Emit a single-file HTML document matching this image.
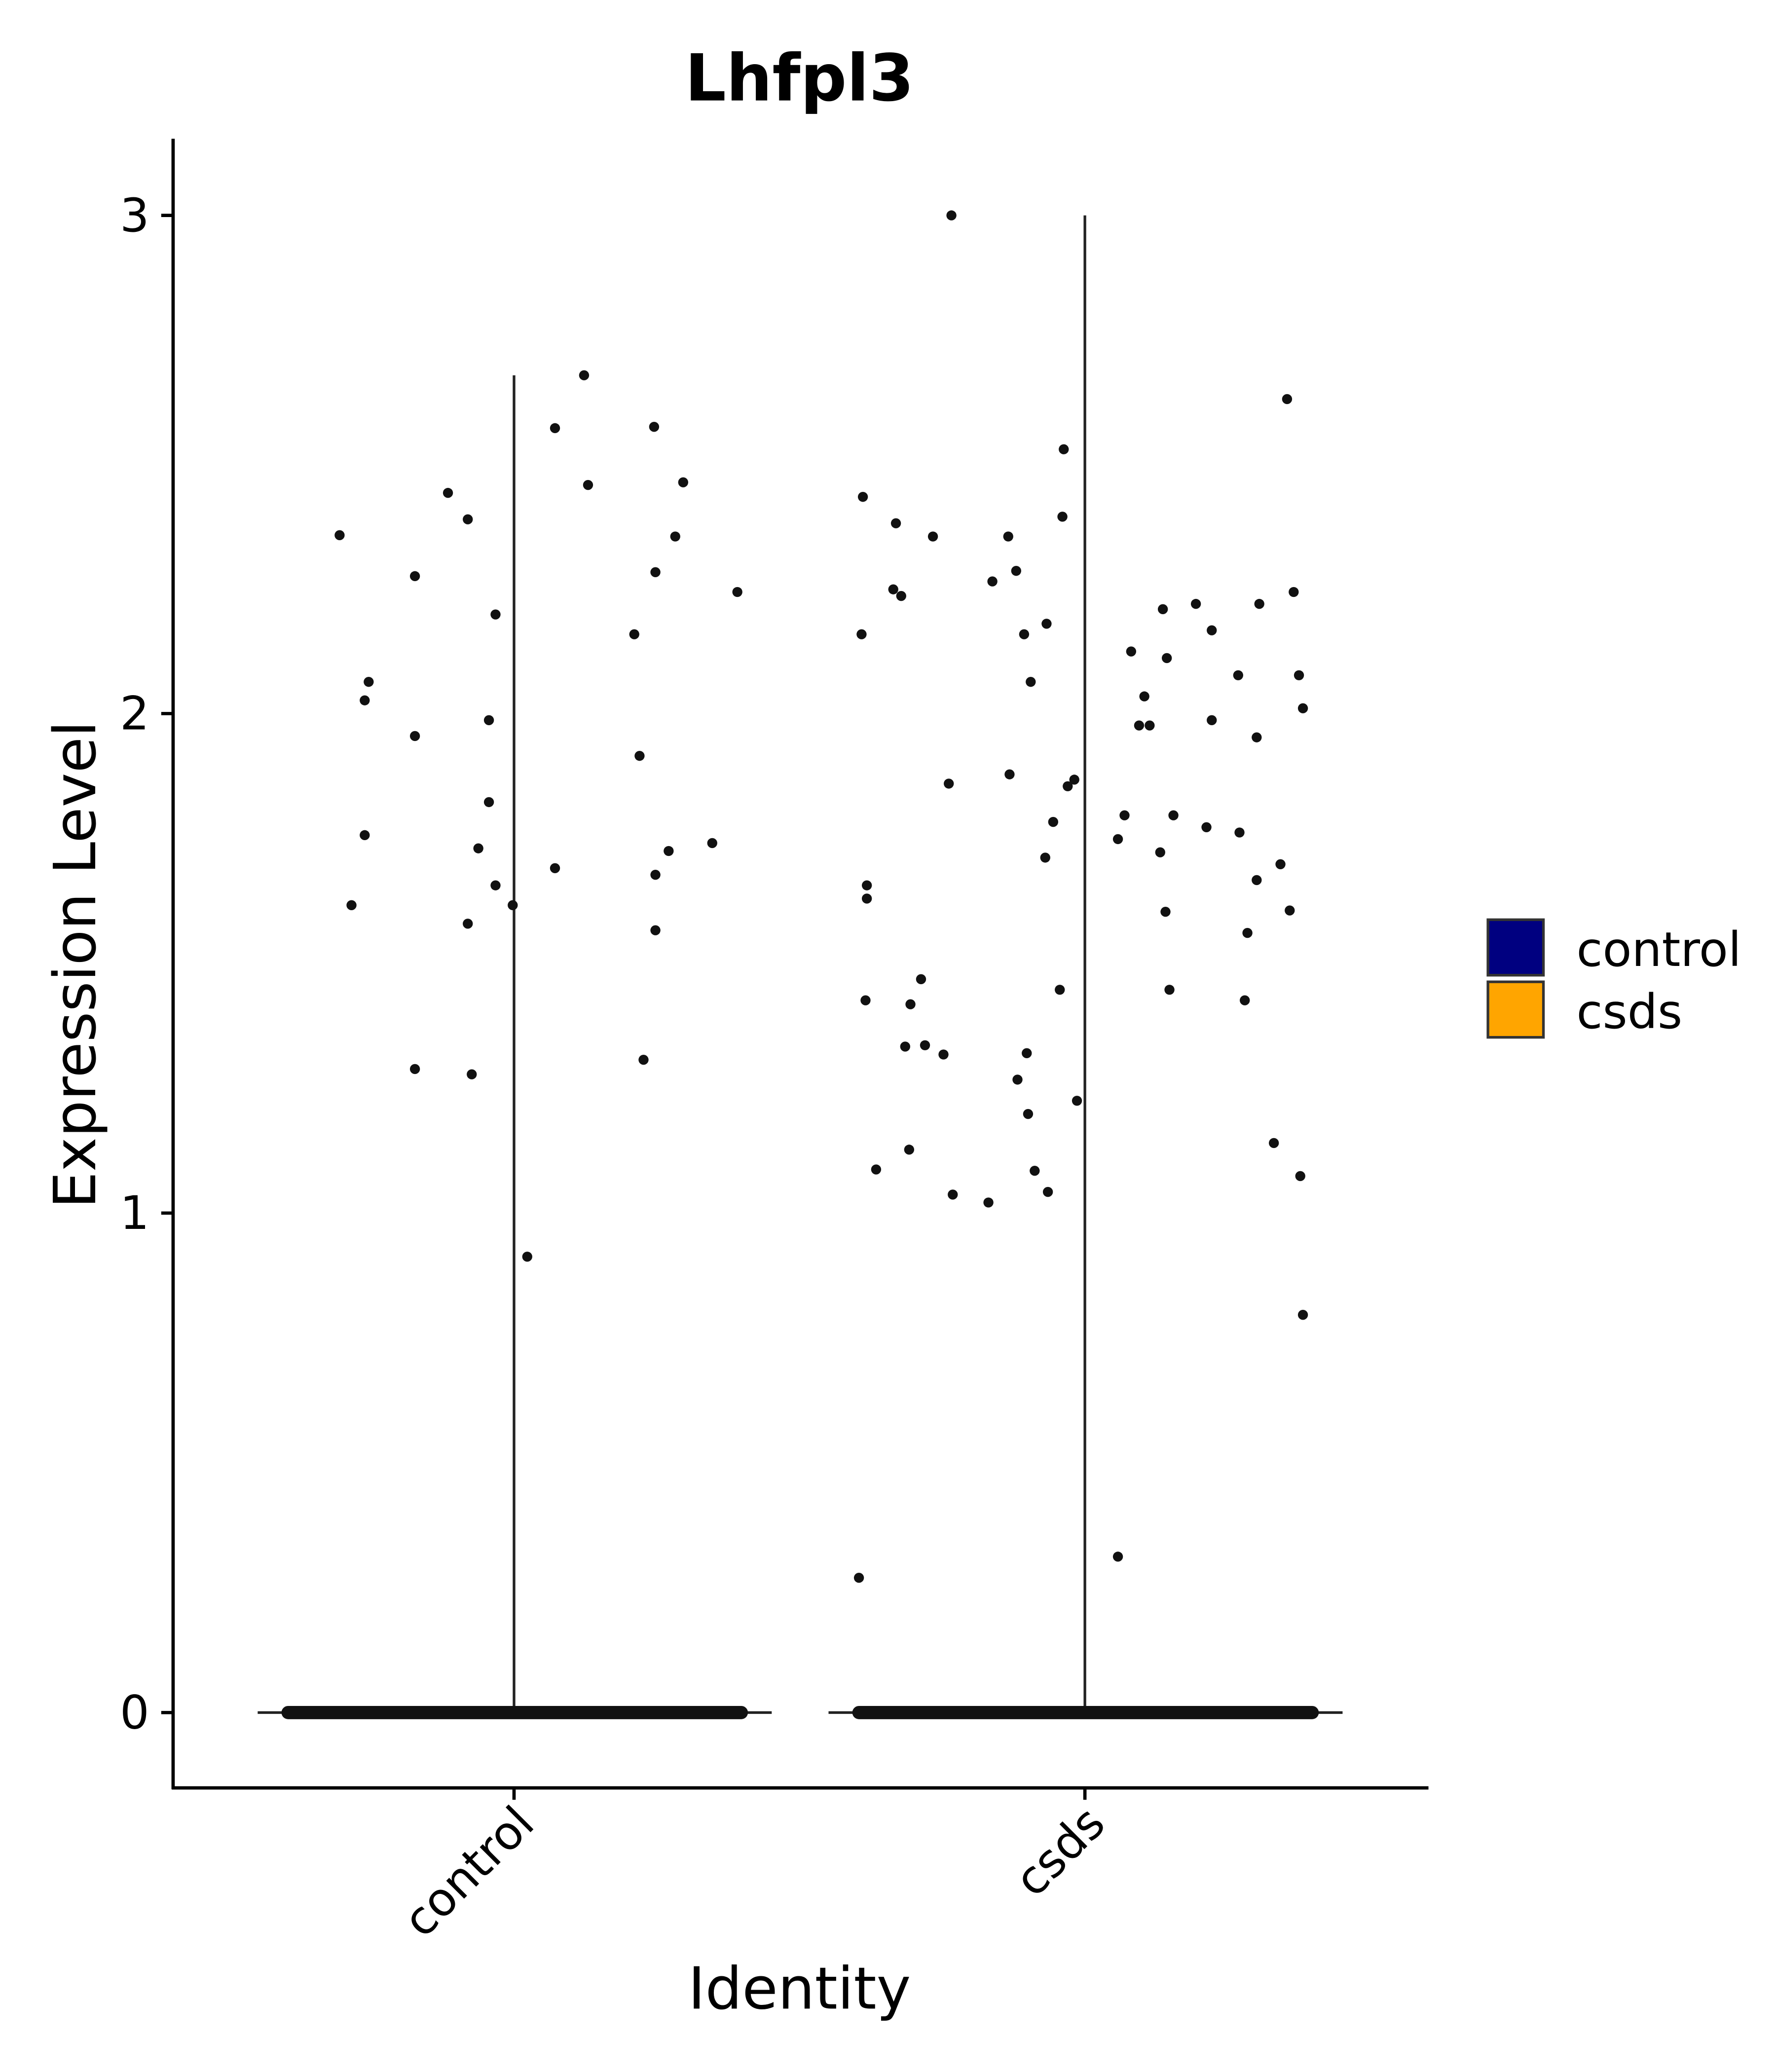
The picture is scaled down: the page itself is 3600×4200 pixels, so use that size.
<!DOCTYPE html>
<html><head><meta charset="utf-8"><style>
html,body{margin:0;padding:0;background:#fff}
svg{display:block}
text{font-family:"DejaVu Sans","Liberation Sans",sans-serif;fill:#000}
</style></head><body>
<svg width="3600" height="4200" viewBox="0 0 1344 1568" xmlns="http://www.w3.org/2000/svg">
<rect width="1344" height="1568" fill="#fff"/>
<text x="605" y="76" font-size="49" font-weight="bold" text-anchor="middle">Lhfpl3</text>
<line x1="131" y1="105" x2="131" y2="1354" stroke="#000" stroke-width="2.5"/>
<line x1="130" y1="1353" x2="1081" y2="1353" stroke="#000" stroke-width="2.5"/>
<g stroke="#000" stroke-width="2.5">
<line x1="122" y1="163" x2="131" y2="163"/><line x1="122" y1="540" x2="131" y2="540"/>
<line x1="122" y1="918" x2="131" y2="918"/><line x1="122" y1="1296" x2="131" y2="1296"/>
<line x1="389" y1="1353" x2="389" y2="1362"/><line x1="821" y1="1353" x2="821" y2="1362"/>
</g>
<g font-size="35" text-anchor="end">
<text x="113" y="175">3</text><text x="113" y="552">2</text>
<text x="113" y="930">1</text><text x="113" y="1308">0</text>
</g>
<text transform="translate(406,1382) rotate(-45)" font-size="35" text-anchor="end">control</text>
<text transform="translate(838,1382) rotate(-45)" font-size="35" text-anchor="end">csds</text>
<text x="605" y="1520" font-size="44" text-anchor="middle">Identity</text>
<text transform="translate(72,730) rotate(-90)" font-size="44" text-anchor="middle">Expression Level</text>
<g stroke="#222" stroke-width="2">
<line x1="389" y1="284" x2="389" y2="1296"/><line x1="195" y1="1296" x2="584" y2="1296"/>
<line x1="821" y1="163" x2="821" y2="1296"/><line x1="627" y1="1296" x2="1016" y2="1296"/>
</g>
<rect x="213" y="1291" width="353" height="10" rx="5" fill="#111"/>
<rect x="645" y="1291" width="353" height="10" rx="5" fill="#111"/>
<g fill="#111">
<circle cx="257" cy="405" r="3.8"/><circle cx="266" cy="685" r="3.8"/><circle cx="276" cy="632" r="3.8"/><circle cx="276" cy="530" r="3.8"/><circle cx="279" cy="516" r="3.8"/><circle cx="314" cy="436" r="3.8"/><circle cx="314" cy="557" r="3.8"/><circle cx="314" cy="809" r="3.8"/><circle cx="339" cy="373" r="3.8"/><circle cx="354" cy="393" r="3.8"/><circle cx="354" cy="699" r="3.8"/><circle cx="357" cy="813" r="3.8"/><circle cx="362" cy="642" r="3.8"/><circle cx="370" cy="545" r="3.8"/><circle cx="370" cy="607" r="3.8"/><circle cx="375" cy="465" r="3.8"/><circle cx="375" cy="670" r="3.8"/><circle cx="388" cy="685" r="3.8"/><circle cx="399" cy="951" r="3.8"/><circle cx="420" cy="657" r="3.8"/><circle cx="420" cy="324" r="3.8"/><circle cx="442" cy="284" r="3.8"/><circle cx="445" cy="367" r="3.8"/><circle cx="480" cy="480" r="3.8"/><circle cx="484" cy="572" r="3.8"/><circle cx="487" cy="802" r="3.8"/><circle cx="495" cy="323" r="3.8"/><circle cx="496" cy="433" r="3.8"/><circle cx="496" cy="662" r="3.8"/><circle cx="496" cy="704" r="3.8"/><circle cx="506" cy="644" r="3.8"/><circle cx="511" cy="406" r="3.8"/><circle cx="517" cy="365" r="3.8"/><circle cx="539" cy="638" r="3.8"/><circle cx="558" cy="448" r="3.8"/>
<circle cx="650" cy="1194" r="3.8"/><circle cx="652" cy="480" r="3.8"/><circle cx="653" cy="376" r="3.8"/><circle cx="655" cy="757" r="3.8"/><circle cx="656" cy="670" r="3.8"/><circle cx="656" cy="680" r="3.8"/><circle cx="663" cy="885" r="3.8"/><circle cx="676" cy="446" r="3.8"/><circle cx="678" cy="396" r="3.8"/><circle cx="682" cy="451" r="3.8"/><circle cx="685" cy="792" r="3.8"/><circle cx="688" cy="870" r="3.8"/><circle cx="689" cy="760" r="3.8"/><circle cx="697" cy="741" r="3.8"/><circle cx="700" cy="791" r="3.8"/><circle cx="706" cy="406" r="3.8"/><circle cx="714" cy="798" r="3.8"/><circle cx="718" cy="593" r="3.8"/><circle cx="721" cy="904" r="3.8"/><circle cx="720" cy="163" r="3.8"/><circle cx="748" cy="910" r="3.8"/><circle cx="751" cy="440" r="3.8"/><circle cx="763" cy="406" r="3.8"/><circle cx="764" cy="586" r="3.8"/><circle cx="769" cy="432" r="3.8"/><circle cx="770" cy="817" r="3.8"/><circle cx="775" cy="480" r="3.8"/><circle cx="777" cy="797" r="3.8"/><circle cx="778" cy="843" r="3.8"/><circle cx="780" cy="516" r="3.8"/><circle cx="783" cy="886" r="3.8"/><circle cx="791" cy="649" r="3.8"/><circle cx="792" cy="472" r="3.8"/><circle cx="793" cy="902" r="3.8"/><circle cx="797" cy="622" r="3.8"/><circle cx="802" cy="749" r="3.8"/><circle cx="804" cy="391" r="3.8"/><circle cx="805" cy="340" r="3.8"/><circle cx="808" cy="595" r="3.8"/><circle cx="813" cy="590" r="3.8"/><circle cx="815" cy="833" r="3.8"/><circle cx="846" cy="635" r="3.8"/><circle cx="846" cy="1178" r="3.8"/><circle cx="851" cy="617" r="3.8"/><circle cx="856" cy="493" r="3.8"/><circle cx="862" cy="549" r="3.8"/><circle cx="866" cy="527" r="3.8"/><circle cx="870" cy="549" r="3.8"/><circle cx="878" cy="645" r="3.8"/><circle cx="880" cy="461" r="3.8"/><circle cx="882" cy="690" r="3.8"/><circle cx="883" cy="498" r="3.8"/><circle cx="885" cy="749" r="3.8"/><circle cx="888" cy="617" r="3.8"/><circle cx="905" cy="457" r="3.8"/><circle cx="913" cy="626" r="3.8"/><circle cx="917" cy="545" r="3.8"/><circle cx="917" cy="477" r="3.8"/><circle cx="937" cy="511" r="3.8"/><circle cx="938" cy="630" r="3.8"/><circle cx="942" cy="757" r="3.8"/><circle cx="944" cy="706" r="3.8"/><circle cx="951" cy="558" r="3.8"/><circle cx="951" cy="666" r="3.8"/><circle cx="953" cy="457" r="3.8"/><circle cx="964" cy="865" r="3.8"/><circle cx="969" cy="654" r="3.8"/><circle cx="974" cy="302" r="3.8"/><circle cx="976" cy="689" r="3.8"/><circle cx="979" cy="448" r="3.8"/><circle cx="983" cy="511" r="3.8"/><circle cx="984" cy="890" r="3.8"/><circle cx="986" cy="536" r="3.8"/><circle cx="986" cy="995" r="3.8"/>
</g>
<rect x="1126" y="696" width="42" height="42" fill="#000080" stroke="#333" stroke-width="2"/>
<rect x="1126" y="743" width="42" height="42" fill="#FFA500" stroke="#333" stroke-width="2"/>
<text x="1193" y="731" font-size="36">control</text>
<text x="1193" y="778" font-size="36">csds</text>
</svg>
</body></html>
